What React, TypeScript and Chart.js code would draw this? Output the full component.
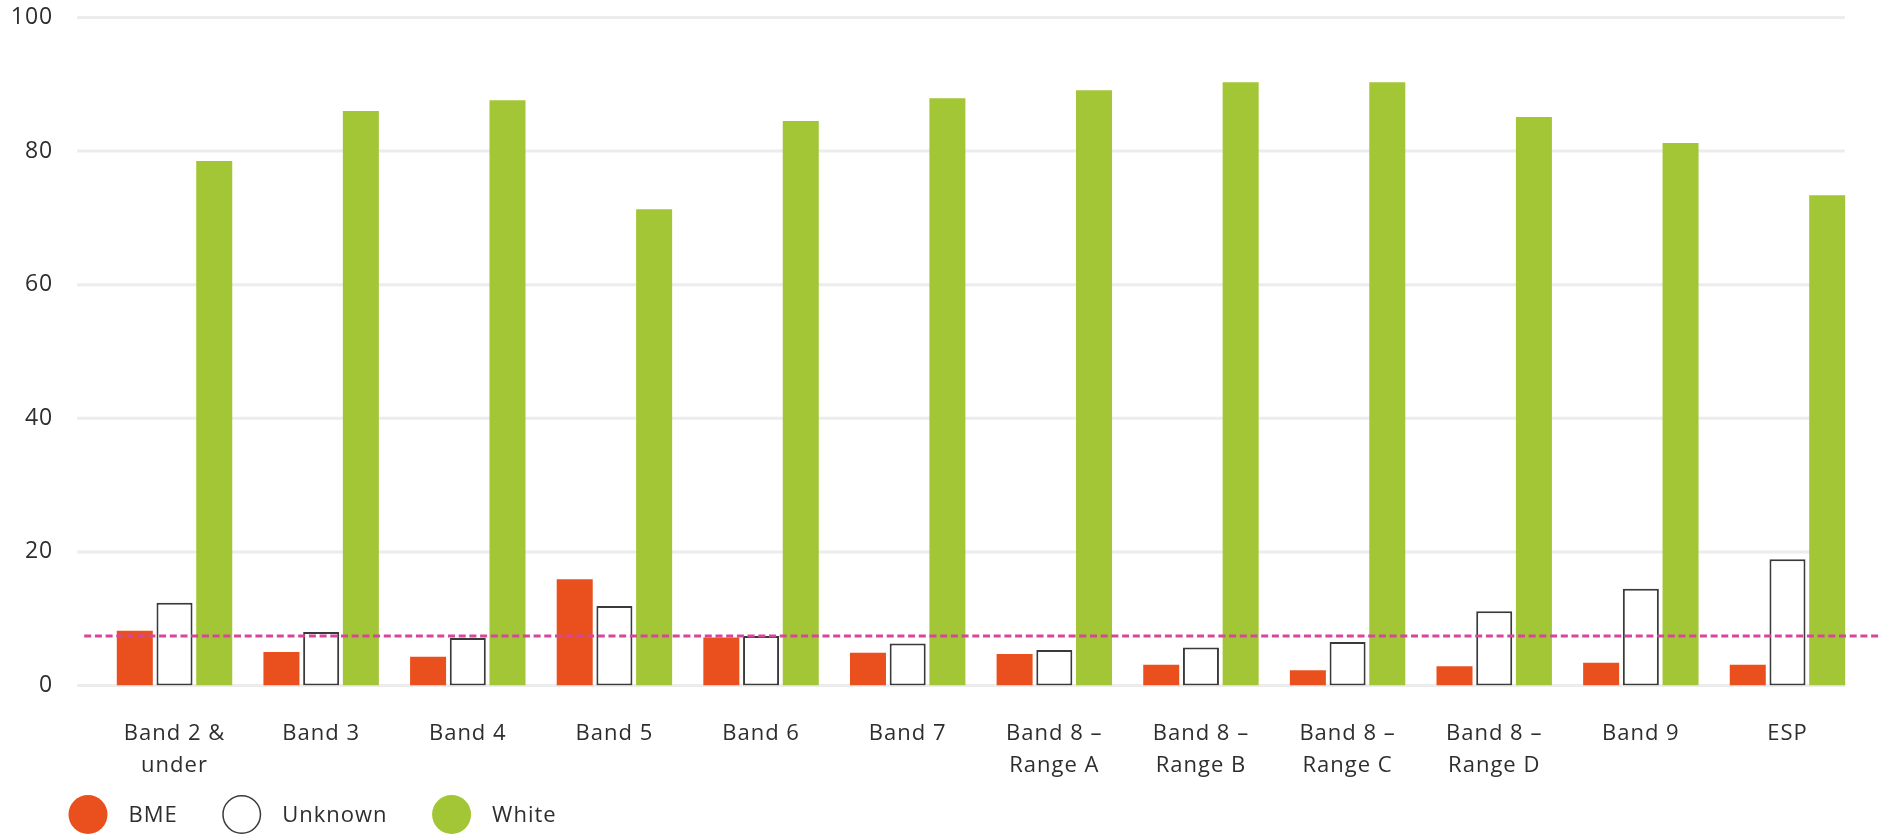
import React, { useEffect, useRef } from "react";
import { Chart, registerables } from "chart.js";

Chart.register(...registerables);

// Pay band categories (multi-line labels are arrays)
const categories: (string | string[])[] = [
  ["Band 2 &", "under"],
  "Band 3",
  "Band 4",
  "Band 5",
  "Band 6",
  "Band 7",
  ["Band 8 –", "Range A"],
  ["Band 8 –", "Range B"],
  ["Band 8 –", "Range C"],
  ["Band 8 –", "Range D"],
  "Band 9",
  "ESP",
];

// Percentage of staff in each band by ethnicity
const bmeValues = [8.2, 5.0, 4.3, 15.9, 7.2, 4.9, 4.7, 3.1, 2.3, 2.9, 3.4, 3.1];
const unknownValues = [12.4, 8.0, 7.1, 11.9, 7.4, 6.3, 5.3, 5.7, 6.5, 11.1, 14.5, 18.9];
const whiteValues = [78.5, 86.0, 87.6, 71.3, 84.5, 87.9, 89.1, 90.3, 90.3, 85.1, 81.2, 73.4];

// Overall BME share, shown as a dotted reference line
const bmeOverall = 7.4;

// Y axis ticks
const yTicks = [0, 20, 40, 60, 80, 100];

const FONT = "'Open Sans', 'DejaVu Sans', sans-serif";
const TEXT = "#2e2e2e";
const ORANGE = "#e9501e";
const GREEN = "#a2c636";
const OUTLINE = "#3a3a3a";
const GRID = "#ececec";
const PINK = "#d6469b";
const TRACKING = "1px";

// Slightly wider letter spacing for every text drawn on the canvas
const trackingPlugin = {
  id: "tracking",
  beforeUpdate(chart: any) {
    (chart.ctx as any).letterSpacing = TRACKING;
  },
  beforeDraw(chart: any) {
    (chart.ctx as any).letterSpacing = TRACKING;
  },
};

const gridPlugin = {
  id: "wideGrid",
  beforeDatasetsDraw(chart: any) {
    const { ctx, chartArea } = chart;
    const y = chart.scales.y;
    ctx.save();
    ctx.strokeStyle = GRID;
    ctx.lineWidth = 3;
    for (const v of yTicks) {
      const py = y.getPixelForValue(v);
      ctx.beginPath();
      ctx.moveTo(chartArea.left - 24, py);
      ctx.lineTo(chartArea.right - 16, py);
      ctx.stroke();
    }
    ctx.restore();
  },
};

const refLinePlugin = {
  id: "refLine",
  afterDatasetsDraw(chart: any) {
    const { ctx, chartArea } = chart;
    const py = chart.scales.y.getPixelForValue(bmeOverall);
    ctx.save();
    ctx.strokeStyle = PINK;
    ctx.lineWidth = 3;
    ctx.setLineDash([7, 3.7]);
    ctx.beginPath();
    ctx.moveTo(chartArea.left - 17, py);
    ctx.lineTo(chart.width, py);
    ctx.stroke();
    ctx.restore();
  },
};

const legendPlugin = {
  id: "circleLegend",
  afterDraw(chart: any) {
    const { ctx } = chart;
    const r = 19.5;
    const cy = 814.5;
    let cx = 88;
    ctx.save();
    (ctx as any).letterSpacing = TRACKING;
    ctx.font = `22px ${FONT}`;
    ctx.textBaseline = "middle";
    ctx.textAlign = "left";
    chart.data.datasets.forEach((ds: any) => {
      ctx.beginPath();
      ctx.arc(cx, cy, r, 0, Math.PI * 2);
      ctx.fillStyle = ds.backgroundColor;
      ctx.fill();
      if (ds.borderWidth) {
        ctx.lineWidth = 1.5;
        ctx.strokeStyle = ds.borderColor;
        ctx.beginPath();
        ctx.arc(cx, cy, r - 0.75, 0, Math.PI * 2);
        ctx.stroke();
      }
      const tx = cx + 40.5;
      ctx.fillStyle = TEXT;
      ctx.fillText(ds.label, tx, cy + 1);
      cx = tx + ctx.measureText(ds.label).width + 64;
    });
    ctx.restore();
  },
};

export default function App() {
  const canvasRef = useRef<HTMLCanvasElement | null>(null);

  useEffect(() => {
    document.body.style.margin = "0";
    const canvas = canvasRef.current;
    if (!canvas) return;
    const chart = new Chart(canvas, {
      type: "bar",
      data: {
        labels: categories,
        datasets: [
          {
            label: "BME",
            data: bmeValues,
            backgroundColor: ORANGE,
            borderWidth: 0,
          },
          {
            label: "Unknown",
            data: unknownValues,
            backgroundColor: "#ffffff",
            borderColor: OUTLINE,
            borderWidth: 2,
            borderSkipped: false,
          },
          {
            label: "White",
            data: whiteValues,
            backgroundColor: GREEN,
            borderWidth: 0,
          },
        ],
      },
      options: {
        responsive: false,
        animation: false,
        devicePixelRatio: 1,
        layout: { padding: { top: 17.5, right: 18.2, bottom: 0, left: 0 } },
        datasets: {
          bar: { categoryPercentage: 0.8124, barPercentage: 0.907 },
        },
        plugins: {
          legend: { display: false },
          tooltip: { enabled: false },
        },
        scales: {
          x: {
            grid: { display: false, drawTicks: false },
            border: { display: false },
            ticks: {
              padding: 32,
              color: TEXT,
              font: { family: FONT, size: 22, lineHeight: 1.45 },
              maxRotation: 0,
              autoSkip: false,
            },
            afterFit: (scale: any) => {
              scale.height = 150.5;
              scale.paddingLeft = 0;
              scale.paddingRight = 0;
            },
          },
          y: {
            min: 0,
            max: 100,
            grid: { display: false, drawTicks: false },
            border: { display: false },
            ticks: {
              stepSize: 20,
              padding: 48,
              color: TEXT,
              font: { family: FONT, size: 23 },
            },
            afterFit: (scale: any) => {
              scale.width = 101.2;
              scale.paddingTop = 0;
              scale.paddingBottom = 0;
            },
          },
        },
      },
      plugins: [trackingPlugin, gridPlugin, refLinePlugin, legendPlugin],
    });
    return () => chart.destroy();
  }, []);

  return (
    <div style={{ width: 1879, height: 836, background: "#fff" }}>
      <canvas ref={canvasRef} width={1879} height={836} style={{ display: "block" }} />
    </div>
  );
}
